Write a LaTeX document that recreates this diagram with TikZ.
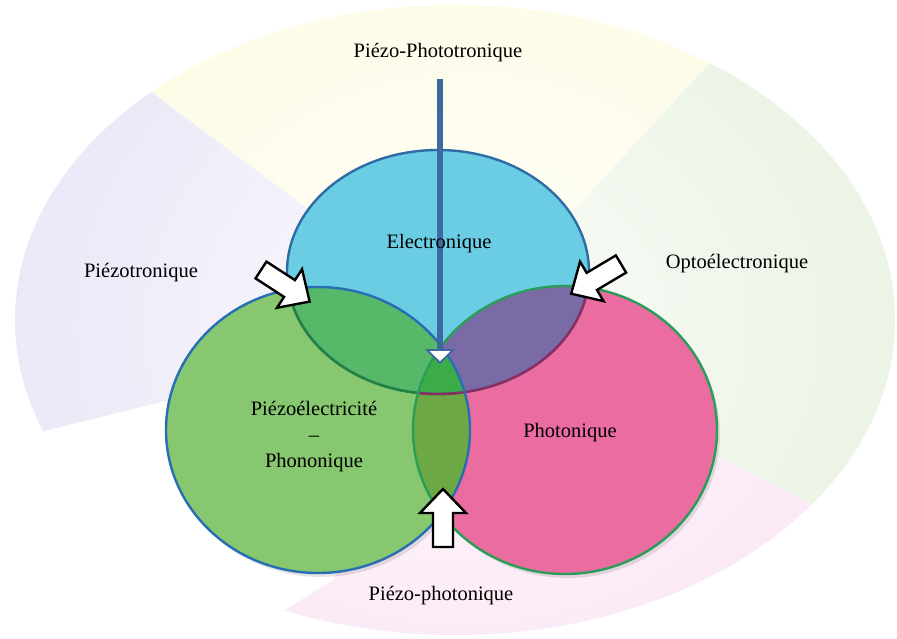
\documentclass[tikz,border=0pt]{standalone}
\usepackage{fontspec}
\setmainfont{Liberation Serif}
\usetikzlibrary{arrows.meta,calc,fadings}

\definecolor{secY}{RGB}{253,251,222}
\definecolor{secG}{RGB}{228,240,220}
\definecolor{secP}{RGB}{250,224,242}
\definecolor{secV}{RGB}{230,226,246}
\definecolor{cBlue}{RGB}{106,205,228}
\definecolor{cGreen}{RGB}{134,199,111}
\definecolor{cPink}{RGB}{234,108,160}
\definecolor{cBG}{RGB}{88,184,106}
\definecolor{cBP}{RGB}{122,106,165}
\definecolor{cGP}{RGB}{108,168,68}
\definecolor{cTri}{RGB}{60,172,72}
\definecolor{bBlue}{RGB}{46,108,165}
\definecolor{bBlueG}{RGB}{34,130,62}
\definecolor{bBlueP}{RGB}{140,44,96}
\definecolor{bGreen}{RGB}{40,110,180}
\definecolor{bPink}{RGB}{42,157,90}
\definecolor{cArrow}{RGB}{62,104,160}

\tikzfading[name=centerfade, inner color=transparent!15, outer color=transparent!100]

\tikzset{
  lbl/.style={anchor=base, inner sep=0pt, font=\fontsize{20.5}{24}\selectfont, text=black},
  rim/.style={line width=2.4pt},
  blockarrow/.pic={
    \draw[black, line width=2.4pt, fill=white, line join=miter]
      (0,-10) -- (34,-10) -- (34,-23) -- (58,0) -- (34,23) -- (34,10) -- (0,10) -- cycle;
  }
}

\begin{document}
\begin{tikzpicture}[x=1pt,y=-1pt]
\useasboundingbox (0,0) rectangle (897,639);
\coordinate (C) at (466,327);

% background sectors
\begin{scope}
  \clip (455,320) ellipse [x radius=440pt, y radius=315pt];
  \fill[secY] (C) -- (-458,-363) -- (1198,-465) -- cycle;
  \fill[secG] (C) -- (1198,-465) -- (1522,870) -- cycle;
  \fill[secP] (C) -- (1522,870) -- (189,670) -- (285,610) -- (333,580) -- cycle;
  \fill[secV] (C) -- (-812,642) -- (-458,-363) -- cycle;
  \fill[white, path fading=centerfade] (C) ellipse [x radius=620pt, y radius=540pt];
\end{scope}

% shadows
\fill[black, opacity=0.10] (321,434) ellipse [x radius=152pt, y radius=143pt];
\fill[black, opacity=0.10] (568,434) ellipse [x radius=152pt, y radius=144pt];

% circle fills
\fill[cBlue] (438,272) ellipse [x radius=151pt, y radius=122pt];
\fill[cGreen] (318,430) ellipse [x radius=152pt, y radius=143pt];
\fill[cPink] (565,430) ellipse [x radius=152pt, y radius=144pt];

% lenses
\begin{scope}
  \clip (318,430) ellipse [x radius=152pt, y radius=143pt];
  \fill[cGP] (565,430) ellipse [x radius=152pt, y radius=144pt];
\end{scope}
\begin{scope}
  \clip (438,272) ellipse [x radius=151pt, y radius=122pt];
  \fill[cBG] (318,430) ellipse [x radius=152pt, y radius=143pt];
  \fill[cBP] (565,430) ellipse [x radius=152pt, y radius=144pt];
  \clip (318,430) ellipse [x radius=152pt, y radius=143pt];
  \fill[cTri] (565,430) ellipse [x radius=152pt, y radius=144pt];
\end{scope}

% borders
\draw[rim, bBlue] (438,272) ellipse [x radius=151pt, y radius=122pt];
\begin{scope}
  \clip (318,430) ellipse [x radius=152pt, y radius=143pt];
  \draw[rim, bBlueG] (438,272) ellipse [x radius=151pt, y radius=122pt];
\end{scope}
\begin{scope}
  \clip (565,430) ellipse [x radius=152pt, y radius=144pt];
  \draw[rim, bBlueP] (438,272) ellipse [x radius=151pt, y radius=122pt];
\end{scope}
\draw[rim, bGreen] (318,430) ellipse [x radius=152pt, y radius=143pt];
\draw[rim, bPink] (565,430) ellipse [x radius=152pt, y radius=144pt];

% vertical arrow
\coordinate (ptop) at (440,79);
\coordinate (ptip) at (440,364);
\draw[cArrow, line width=6pt,
  -{Triangle[width=30pt,length=15pt,fill=white,line width=1.8pt]}] (ptop) -- (ptip);

% block arrows
\pic[rotate=-33] at (261,270) {blockarrow};
\pic[rotate=210.8] at (621,264) {blockarrow};
\pic[rotate=90] at (443,547) {blockarrow};

% labels
\node[lbl] (tPP) at (438,58) {Piézo-Phototronique};
\node[lbl] (tE) at (439,248) {Electronique};
\node[lbl] (tPt) at (141,277) {Piézotronique};
\node[lbl] (tO) at (737,269) {Optoélectronique};
\node[lbl] (tPE1) at (314,415) {Piézoélectricité};
\node[lbl] (tPE2) at (314,441) {–};
\node[lbl] (tPE3) at (314,467) {Phononique};
\node[lbl] (tPh) at (570,437) {Photonique};
\node[lbl] (tPp) at (441,600) {Piézo-photonique};
\end{tikzpicture}
\end{document}
